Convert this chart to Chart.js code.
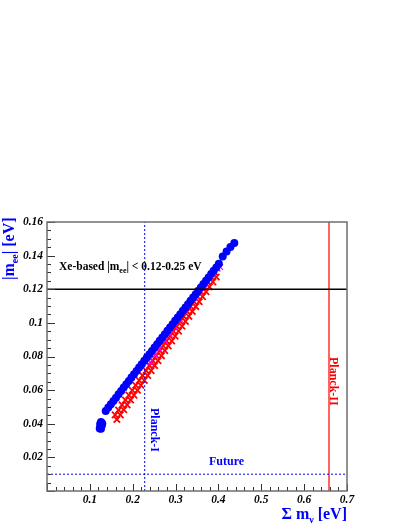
<!DOCTYPE html>
<html>
<head>
<meta charset="utf-8">
<script src="https://cdn.jsdelivr.net/npm/chart.js@4.4.0/dist/chart.umd.min.js"></script>
<style>
  html, body { margin: 0; padding: 0; background: #fff; }
  canvas { display: block; }
</style>
</head>
<body>
<canvas id="myChart" width="409" height="529"></canvas>
<script>
// blue circles (blob at the low end, then the band)
const blueSum = [0.123, 0.126, 0.125, 0.128, 0.124, 0.127, 0.129, 0.126,
  0.137, 0.143, 0.149, 0.155, 0.161, 0.167, 0.173, 0.179, 0.185, 0.191,
  0.197, 0.203, 0.209, 0.215, 0.221, 0.227, 0.233, 0.239, 0.245, 0.251,
  0.257, 0.263, 0.269, 0.275, 0.281, 0.287, 0.293, 0.299, 0.305, 0.311,
  0.317, 0.323, 0.329, 0.335, 0.341, 0.347, 0.353, 0.359, 0.365, 0.371,
  0.377, 0.383, 0.389, 0.395, 0.401, 0.410, 0.419, 0.428, 0.437];
const blueMee = [0.0372, 0.0371, 0.0385, 0.0390, 0.0398, 0.0404, 0.0402, 0.0410,
  0.0476, 0.0496, 0.0516, 0.0536, 0.0555, 0.0575, 0.0595, 0.0615, 0.0635, 0.0655,
  0.0675, 0.0694, 0.0714, 0.0734, 0.0754, 0.0774, 0.0794, 0.0814, 0.0833, 0.0853,
  0.0873, 0.0893, 0.0913, 0.0933, 0.0953, 0.0972, 0.0992, 0.1012, 0.1032, 0.1052,
  0.1072, 0.1091, 0.1111, 0.1131, 0.1151, 0.1171, 0.1191, 0.1211, 0.1231, 0.1250,
  0.1270, 0.1290, 0.1310, 0.1330, 0.1352, 0.1395, 0.1425, 0.1452, 0.1475];

// red crosses
const redSum = [0.159, 0.163, 0.167, 0.171, 0.175, 0.179, 0.183, 0.187, 0.191, 0.195,
  0.199, 0.203, 0.207, 0.211, 0.215, 0.219, 0.223, 0.227, 0.231, 0.235,
  0.239, 0.243, 0.247, 0.251, 0.255, 0.259, 0.263, 0.267, 0.271, 0.275,
  0.279, 0.283, 0.287, 0.291, 0.295, 0.299, 0.303, 0.307, 0.311, 0.315,
  0.319, 0.323, 0.327, 0.331, 0.335, 0.339, 0.343, 0.347, 0.351, 0.355,
  0.359, 0.363, 0.367, 0.371, 0.375, 0.379, 0.383, 0.387, 0.391, 0.395];
const redMee = [0.0453, 0.0425, 0.0482, 0.0453, 0.0512, 0.0483, 0.0541, 0.0512, 0.0570, 0.0541,
  0.0599, 0.0570, 0.0629, 0.0599, 0.0658, 0.0629, 0.0687, 0.0658, 0.0717, 0.0687,
  0.0746, 0.0716, 0.0775, 0.0746, 0.0804, 0.0775, 0.0834, 0.0804, 0.0863, 0.0834,
  0.0892, 0.0863, 0.0921, 0.0892, 0.0951, 0.0921, 0.0980, 0.0951, 0.1009, 0.0980,
  0.1039, 0.1009, 0.1068, 0.1039, 0.1097, 0.1068, 0.1126, 0.1097, 0.1156, 0.1126,
  0.1185, 0.1156, 0.1214, 0.1185, 0.1244, 0.1214, 0.1273, 0.1244, 0.1302, 0.1273];

// magenta crosses along the upper edge of the red band
const magSum = [0.240, 0.252, 0.262, 0.275, 0.286, 0.298, 0.310, 0.322,
  0.333, 0.345, 0.356, 0.367, 0.378, 0.388, 0.398, 0.404];
const magMee = [0.0765, 0.0809, 0.0846, 0.0894, 0.0934, 0.0978, 0.1022, 0.1066,
  0.1106, 0.1150, 0.1190, 0.1230, 0.1271, 0.1306, 0.1322, 0.1332];

const xTicks = [0.1, 0.2, 0.3, 0.4, 0.5, 0.6, 0.7];
const yTicks = [0.02, 0.04, 0.06, 0.08, 0.1, 0.12, 0.14, 0.16];

// reference lines
const xeLimit = 0.12;
const planckI = 0.228;
const planckII = 0.658;
const future = 0.01;

const pts = (xs, ys) => xs.map((x, i) => ({ x: x, y: ys[i] }));
const tickFont = { family: 'Liberation Serif', size: 11.5, weight: 'bold', style: 'italic' };

// draws text pieces one after another, some of them as subscripts
function drawParts(ctx, parts, x, y) {
  let cx = x;
  parts.forEach((p) => {
    ctx.font = 'bold ' + p.size + 'px "Liberation Serif"';
    ctx.fillText(p.t, cx, y + (p.dy || 0));
    cx += ctx.measureText(p.t).width;
  });
}
function partsWidth(ctx, parts) {
  let w = 0;
  parts.forEach((p) => {
    ctx.font = 'bold ' + p.size + 'px "Liberation Serif"';
    w += ctx.measureText(p.t).width;
  });
  return w;
}

const rootFrame = {
  id: 'rootFrame',
  afterDraw(chart) {
    const ctx = chart.ctx;
    const a = chart.chartArea;
    const xs = chart.scales.x;
    const ys = chart.scales.y;
    ctx.save();

    // ticks inside the frame
    ctx.strokeStyle = '#333';
    ctx.lineWidth = 1;
    for (let i = 0; i <= 32; i++) {
      const py = Math.round(ys.getPixelForValue(i * 0.005)) + 0.5;
      const len = i % 4 === 0 ? 8 : 4;
      ctx.beginPath();
      ctx.moveTo(a.left, py);
      ctx.lineTo(a.left + len, py);
      ctx.stroke();
    }
    for (let i = 0; i <= 35; i++) {
      const px = Math.round(xs.getPixelForValue(i * 0.02)) + 0.5;
      const len = i % 5 === 0 ? 7 : 4;
      ctx.beginPath();
      ctx.moveTo(px, a.bottom);
      ctx.lineTo(px, a.bottom - len);
      ctx.stroke();
    }

    // frame
    ctx.strokeStyle = '#6e6e6e';
    ctx.lineWidth = 1.5;
    ctx.strokeRect(a.left, a.top, a.right - a.left, a.bottom - a.top);

    ctx.textBaseline = 'alphabetic';
    ctx.textAlign = 'left';

    // axis titles
    ctx.fillStyle = '#0000ff';
    ctx.save();
    ctx.translate(14, 280);
    ctx.rotate(-Math.PI / 2);
    drawParts(ctx, [{ t: '|m', size: 16 }, { t: 'ee', size: 10, dy: 4 }, { t: '| [eV]', size: 16 }], 0, 0);
    ctx.restore();

    const xt = [{ t: '\u03A3 m', size: 16 }, { t: '\u03BD', size: 10, dy: 4 }, { t: ' [eV]', size: 16 }];
    drawParts(ctx, xt, a.right - partsWidth(ctx, xt), 519);

    // annotations
    ctx.fillStyle = '#000';
    drawParts(ctx, [{ t: 'Xe-based |m', size: 11.5 }, { t: 'ee', size: 8, dy: 3 }, { t: '| < 0.12-0.25 eV', size: 11.5 }], 59, 270);

    ctx.fillStyle = '#0000ff';
    drawParts(ctx, [{ t: 'Future', size: 12 }], 209, 465);

    ctx.save();
    ctx.translate(xs.getPixelForValue(planckI) + 6, 408);
    ctx.rotate(Math.PI / 2);
    drawParts(ctx, [{ t: 'Planck-I', size: 12 }], 0, 0);
    ctx.restore();

    ctx.fillStyle = '#ff0000';
    ctx.save();
    ctx.translate(xs.getPixelForValue(planckII) + 1, 357);
    ctx.rotate(Math.PI / 2);
    drawParts(ctx, [{ t: 'Planck-II', size: 12 }], 0, 0);
    ctx.restore();

    ctx.restore();
  },
};

const ctx = document.getElementById('myChart');
new Chart(ctx, {
  type: 'scatter',
  data: {
    datasets: [
      {
        data: [{ x: 0, y: xeLimit }, { x: 0.7, y: xeLimit }],
        showLine: true, pointRadius: 0, borderColor: '#000', borderWidth: 1.3,
      },
      {
        data: [{ x: planckI, y: 0 }, { x: planckI, y: 0.16 }],
        showLine: true, pointRadius: 0, borderColor: '#0000ff', borderWidth: 1, borderDash: [2, 2],
      },
      {
        data: [{ x: 0, y: future }, { x: 0.7, y: future }],
        showLine: true, pointRadius: 0, borderColor: '#0000ff', borderWidth: 1, borderDash: [2, 2],
      },
      {
        data: [{ x: planckII, y: 0 }, { x: planckII, y: 0.16 }],
        showLine: true, pointRadius: 0, borderColor: '#ff3030', borderWidth: 1.5,
      },
      {
        data: pts(blueSum, blueMee),
        pointStyle: 'circle', pointRadius: 4, backgroundColor: '#0000ff', borderWidth: 0,
      },
      {
        data: pts(magSum, magMee),
        pointStyle: 'crossRot', pointRadius: 4, borderColor: '#ff00ff', borderWidth: 1.3,
      },
      {
        data: pts(redSum, redMee),
        pointStyle: 'crossRot', pointRadius: 4.5, borderColor: '#ff0000', borderWidth: 1.8,
      },
    ],
  },
  options: {
    responsive: false,
    animation: false,
    layout: { padding: { top: 222, right: 62, left: 0, bottom: 0 } },
    plugins: { legend: { display: false }, tooltip: { enabled: false } },
    scales: {
      x: {
        type: 'linear', min: 0, max: 0.7,
        grid: { display: false, drawTicks: false }, border: { display: false },
        ticks: {
          font: tickFont, color: '#000', padding: 2, autoSkip: false, maxRotation: 0,
          callback: (v) => String(parseFloat(v.toFixed(2))),
        },
        afterBuildTicks: (s) => { s.ticks = xTicks.map((v) => ({ value: v })); },
        afterFit: (s) => { s.height = 38; },
      },
      y: {
        type: 'linear', min: 0, max: 0.16,
        grid: { display: false, drawTicks: false }, border: { display: false },
        ticks: {
          font: tickFont, color: '#000', padding: 4, autoSkip: false,
          callback: (v) => String(parseFloat(v.toFixed(3))),
        },
        afterBuildTicks: (s) => { s.ticks = yTicks.map((v) => ({ value: v })); },
        afterFit: (s) => { s.width = 47; },
      },
    },
  },
  plugins: [rootFrame],
});
</script>
</body>
</html>
